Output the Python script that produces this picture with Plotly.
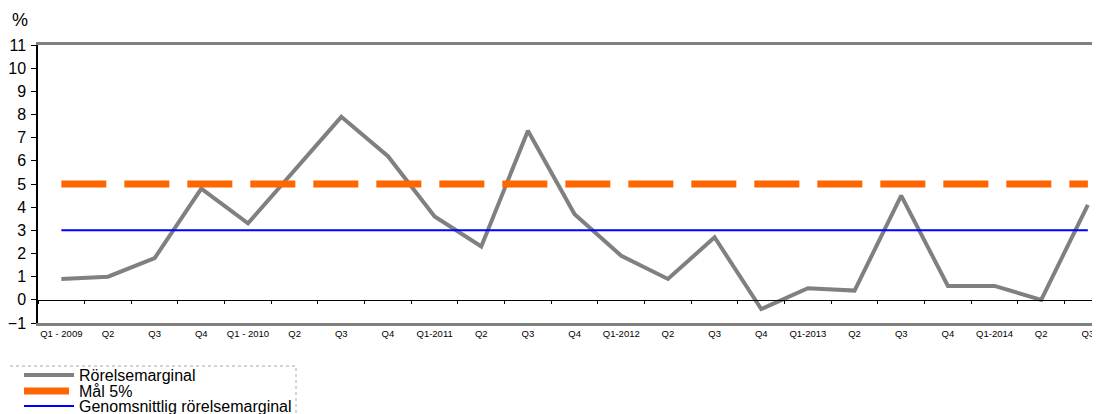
import plotly.graph_objects as go

quarters = ["Q1 - 2009", "Q2", "Q3", "Q4",
            "Q1 - 2010", "Q2", "Q3", "Q4",
            "Q1-2011", "Q2", "Q3", "Q4",
            "Q1-2012", "Q2", "Q3", "Q4",
            "Q1-2013", "Q2", "Q3", "Q4",
            "Q1-2014", "Q2", "Q3"]
# unique category keys (labels repeat)
keys = ["2009Q1", "2009Q2", "2009Q3", "2009Q4",
        "2010Q1", "2010Q2", "2010Q3", "2010Q4",
        "2011Q1", "2011Q2", "2011Q3", "2011Q4",
        "2012Q1", "2012Q2", "2012Q3", "2012Q4",
        "2013Q1", "2013Q2", "2013Q3", "2013Q4",
        "2014Q1", "2014Q2", "2014Q3"]

rorelsemarginal = [0.9, 1.0, 1.8, 4.8,
                   3.3, 5.6, 7.9, 6.2,
                   3.6, 2.3, 7.3, 3.7,
                   1.9, 0.9, 2.7, -0.4,
                   0.5, 0.4, 4.5, 0.6,
                   0.6, 0.0, 4.1]
mal = [5.0, 5.0, 5.0, 5.0, 5.0, 5.0, 5.0, 5.0, 5.0, 5.0, 5.0, 5.0,
       5.0, 5.0, 5.0, 5.0, 5.0, 5.0, 5.0, 5.0, 5.0, 5.0, 5.0]
genomsnitt = [3.0, 3.0, 3.0, 3.0, 3.0, 3.0, 3.0, 3.0, 3.0, 3.0, 3.0, 3.0,
              3.0, 3.0, 3.0, 3.0, 3.0, 3.0, 3.0, 3.0, 3.0, 3.0, 3.0]
y_ticks = [-1, 0, 1, 2, 3, 4, 5, 6, 7, 8, 9, 10, 11]

# page has an 8px body margin: size the figure so it fills the window
OFF = 8
W, H = 1100 - OFF, 414 - OFF
ML, MR, MT, MB = 30, 0, 37, 91
PW, PH = W - ML - MR, H - MT - MB
PL, PB = OFF + ML, OFF + MT + PH      # plot-area left / bottom in page px
FONT = "Liberation Sans, Arial, sans-serif"


def px(xp):
    return (xp - PL) / PW


def py(yp):
    return (PB - yp) / PH


fig = go.Figure()
fig.add_trace(go.Scatter(
    x=keys, y=rorelsemarginal, mode="lines", name="Rörelsemarginal",
    line=dict(color="#808080", width=4), xaxis="x", yaxis="y",
    legend="legend"))
fig.add_trace(go.Scatter(
    x=keys, y=mal, mode="lines", name="Mål 5%",
    line=dict(color="#FF6600", width=7, dash="45px,18px"), xaxis="x", yaxis="y",
    legend="legend2"))
fig.add_trace(go.Scatter(
    x=keys, y=genomsnitt, mode="lines", name="Genomsnittlig rörelsemarginal",
    line=dict(color="#0000FF", width=2), xaxis="x2", yaxis="y",
    legend="legend3"))

xr = [-0.5, 22.26]


def leg(yc):
    return dict(
        x=px(19), y=py(yc), xanchor="left", yanchor="middle",
        bgcolor="rgba(0,0,0,0)", font=dict(size=16, family=FONT),
        itemwidth=50, tracegroupgap=0, borderwidth=0)


fig.update_layout(
    width=W, height=H,
    margin=dict(l=ML, r=MR, t=MT, b=MB, autoexpand=False),
    paper_bgcolor="white", plot_bgcolor="white",
    font=dict(family=FONT, color="#000000"),
    showlegend=True,
    xaxis=dict(
        type="category", categoryorder="array", categoryarray=keys,
        range=xr, tickmode="array", tickvals=keys, ticktext=quarters,
        tickfont=dict(size=9.5, family=FONT), ticks="", showgrid=False,
        zeroline=False, showline=True, linecolor="#808080", linewidth=2.5,
        mirror=True, ticklabelstandoff=0, automargin=False),
    xaxis2=dict(
        type="category", categoryorder="array", categoryarray=keys,
        range=xr, overlaying="x", anchor="free", position=1 / 12,
        showline=True, linecolor="#000000", linewidth=1.2,
        ticks="outside", ticklen=3, tickcolor="#000000", tickwidth=1,
        tickson="boundaries", showticklabels=False, showgrid=False,
        zeroline=False, automargin=False),
    yaxis=dict(
        range=[-1, 11], tickmode="array", tickvals=y_ticks,
        tickfont=dict(size=16, family=FONT), showgrid=False, zeroline=False,
        showline=True, linecolor="#000000", linewidth=1.5,
        ticks="outside", ticklen=5, tickcolor="#000000",
        ticklabelstandoff=2, automargin=False),
    legend=leg(375),
    legend2=leg(391),
    legend3=leg(406),
    annotations=[dict(
        xref="paper", yref="paper", x=px(20), y=py(20),
        text="%", showarrow=False, xanchor="center", yanchor="middle",
        font=dict(size=18, family=FONT))],
    shapes=[dict(
        type="rect", xref="paper", yref="paper",
        x0=px(7), x1=px(296), y0=py(430), y1=py(366),
        line=dict(color="#AAAAAA", width=1, dash="dot"), layer="below")],
)

fig.write_html("out.html")
